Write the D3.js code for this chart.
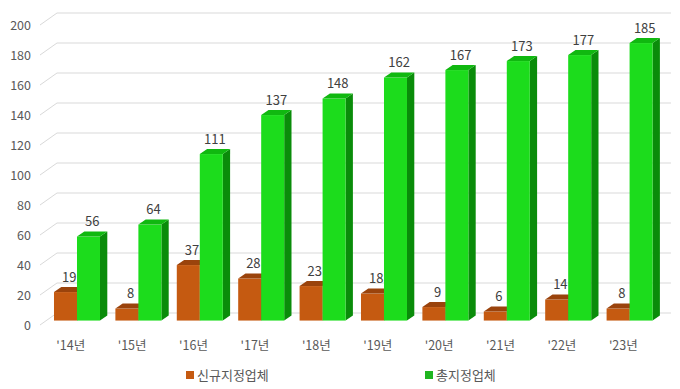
<!DOCTYPE html>
<html>
<head>
<meta charset="utf-8">
<script src="https://cdn.jsdelivr.net/npm/d3@7"></script>
<style>
  body { margin: 0; background: #fff; }
  svg text { font-family: "Noto Sans CJK KR", "Noto Sans", sans-serif; }
</style>
</head>
<body>
<svg id="chart"></svg>
<script>
// data
const years = ["'14년", "'15년", "'16년", "'17년", "'18년", "'19년", "'20년", "'21년", "'22년", "'23년"];
const newFirms = [19, 8, 37, 28, 23, 18, 9, 6, 14, 8];
const totalFirms = [56, 64, 111, 137, 148, 162, 167, 173, 177, 185];
const seriesNames = ['신규지정업체', '총지정업체'];
const yTicks = [0, 20, 40, 60, 80, 100, 120, 140, 160, 180, 200];

const width = 680, height = 389;
const colors = {
  '신규지정업체': { front: '#c55a11', top: '#9a430c', side: '#843a0a' },
  '총지정업체': { front: '#1cdc1c', top: '#10b810', side: '#0a8c0a' }
};

// 3d oblique offset from the front plane to the back wall
const DX = 17, DY = 12;
const zFront = 0.37, zBack = 0.8;

const svg = d3.select('#chart')
  .attr('width', width)
  .attr('height', height);

// front plane scales
const xScale = d3.scaleBand()
  .domain(years)
  .range([40, 654]);

const yScale = d3.scaleLinear()
  .domain([0, 200])
  .range([325, 25]);

const barW = 23;

// projection helper
const px = (x, z) => x + z * DX;
const py = (y, z) => y - z * DY;

// gridlines: side wall diagonal + back wall horizontal
const grid = svg.append('g').attr('class', 'grid');
yTicks.forEach(t => {
  const yf = yScale(t);
  grid.append('polyline')
    .attr('points', `${40},${yf} ${px(40, 1)},${py(yf, 1)} ${px(654, 1)},${py(yf, 1)}`)
    .attr('fill', 'none')
    .attr('stroke', '#d9d9d9')
    .attr('stroke-width', 1);
});

// y axis labels
const yAxis = d3.axisLeft(yScale)
  .tickValues(yTicks)
  .tickSize(0)
  .tickPadding(0);

svg.append('g')
  .attr('class', 'axis y-axis')
  .attr('transform', 'translate(31,0)')
  .call(yAxis)
  .call(g => g.select('.domain').remove())
  .call(g => g.selectAll('text')
    .attr('fill', '#595959')
    .style('font-size', '12.5px'));

// x axis labels
const xAxis = d3.axisBottom(xScale)
  .tickSize(0)
  .tickPadding(0);

svg.append('g')
  .attr('class', 'axis x-axis')
  .attr('transform', 'translate(0,341)')
  .call(xAxis)
  .call(g => g.select('.domain').remove())
  .call(g => g.selectAll('text')
    .attr('fill', '#595959')
    .style('font-size', '12.5px'));

// draws one 3d bar; x is the left edge on the front plane
function drawBar(g, x, v, c) {
  const x0 = px(x, zFront), x1 = px(x + barW, zFront);
  const yb = py(yScale(0), zFront), yt = py(yScale(v), zFront);
  const ox = (zBack - zFront) * DX, oy = (zBack - zFront) * DY;

  // side
  g.append('path')
    .attr('d', `M${x1},${yt} L${x1 + ox},${yt - oy} L${x1 + ox},${yb - oy} L${x1},${yb} Z`)
    .attr('fill', c.side);
  // front
  g.append('rect')
    .attr('x', x0).attr('y', yt)
    .attr('width', barW).attr('height', yb - yt)
    .attr('fill', c.front);
  // top
  g.append('path')
    .attr('d', `M${x0},${yt} L${x0 + ox},${yt - oy} L${x1 + ox},${yt - oy} L${x1},${yt} Z`)
    .attr('fill', c.top);
}

const bars = svg.append('g').attr('class', 'bars');
const labels = svg.append('g').attr('class', 'labels');

years.forEach((yr, i) => {
  const center = xScale(yr) + xScale.bandwidth() / 2;
  const vals = [newFirms[i], totalFirms[i]];
  vals.forEach((v, k) => {
    const x = center - barW + k * barW;
    const g = bars.append('g');
    drawBar(g, x, v, colors[seriesNames[k]]);
    labels.append('text')
      .attr('x', px(x + barW / 2, (zFront + zBack) / 2))
      .attr('y', py(yScale(v), zBack) - 5)
      .attr('text-anchor', 'middle')
      .attr('fill', '#404040')
      .style('font-size', '13px')
      .text(v);
  });
});

// legend
const legend = svg.append('g').attr('class', 'legend');
const legendX = [186, 425];
seriesNames.forEach((s, k) => {
  const lg = legend.append('g').attr('transform', `translate(${legendX[k]},375)`);
  lg.append('rect')
    .attr('x', 0).attr('y', -4)
    .attr('width', 8).attr('height', 8)
    .attr('fill', k === 0 ? colors[s].front : '#1fb51f');
  lg.append('text')
    .attr('x', 11)
    .attr('y', 0)
    .attr('dy', '0.35em')
    .attr('fill', '#595959')
    .style('font-size', '13px')
    .text(s);
});
</script>
</body>
</html>
